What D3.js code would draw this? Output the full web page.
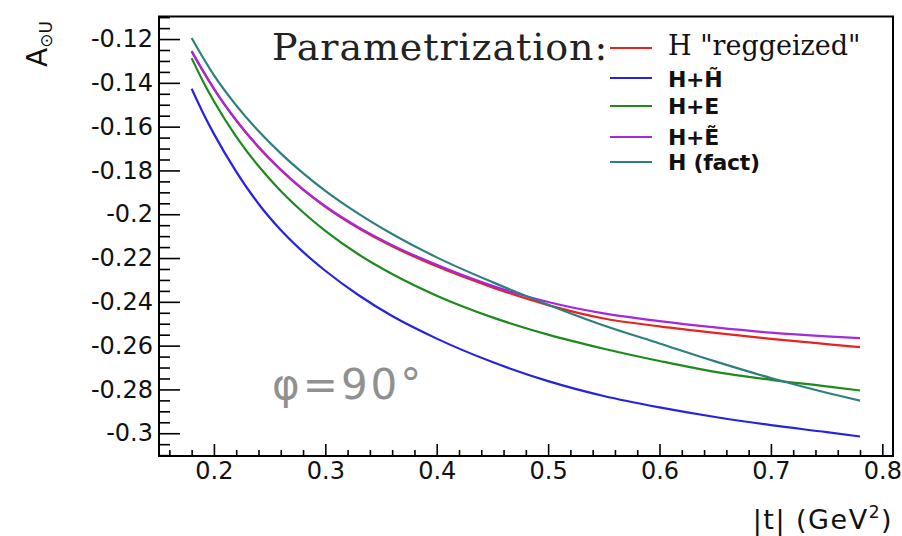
<!DOCTYPE html>
<html><head><meta charset="utf-8">
<script src="https://cdn.jsdelivr.net/npm/d3@7"></script>
<style>
html,body{margin:0;padding:0;background:#fff;}
svg{display:block;}
</style></head>
<body>
<svg id="chart" width="902" height="536"></svg>
<script>
const tValues = [0.18,0.19,0.20,0.22,0.24,0.26,0.28,0.30,0.33,0.36,0.40,0.45,0.50,0.55,0.60,0.65,0.70,0.75,0.78];
const hReggeized = [-0.1257,-0.1345,-0.1428,-0.1572,-0.1694,-0.1798,-0.1888,-0.1966,-0.2064,-0.2146,-0.2238,-0.2334,-0.2415,-0.2476,-0.2512,-0.2542,-0.2569,-0.2593,-0.2607];
const hPlusHt    = [-0.1427,-0.1535,-0.1633,-0.1805,-0.1952,-0.2072,-0.2172,-0.2258,-0.2370,-0.2465,-0.2568,-0.2675,-0.2762,-0.2830,-0.2882,-0.2926,-0.2963,-0.2995,-0.3015];
const hPlusE     = [-0.1287,-0.1391,-0.1484,-0.1645,-0.1780,-0.1894,-0.1991,-0.2076,-0.2184,-0.2273,-0.2372,-0.2471,-0.2550,-0.2614,-0.2670,-0.2720,-0.2756,-0.2786,-0.2805];
const hPlusEt    = [-0.1255,-0.1343,-0.1426,-0.1570,-0.1692,-0.1796,-0.1886,-0.1963,-0.2060,-0.2141,-0.2231,-0.2327,-0.2401,-0.2453,-0.2488,-0.2517,-0.2541,-0.2558,-0.2566];
const hFact      = [-0.1195,-0.1283,-0.1365,-0.1503,-0.1620,-0.1722,-0.1812,-0.1893,-0.1998,-0.2090,-0.2197,-0.2310,-0.2413,-0.2508,-0.2590,-0.2672,-0.2748,-0.2815,-0.2851];

const seriesNames  = ['H "reggeized"', 'H+H\u0303', 'H+E', 'H+\u1EBC', 'H (fact)'];
const seriesColors = ['#e8221e', '#2424e0', '#1e8a1e', '#a428dc', '#2e7f80'];
const seriesData   = [hReggeized, hPlusHt, hPlusE, hPlusEt, hFact];
const drawOrder    = [2, 1, 0, 3, 4];

const xMajorTicks = [0.2,0.3,0.4,0.5,0.6,0.7,0.8];
const yMajorTicks = [-0.12,-0.14,-0.16,-0.18,-0.2,-0.22,-0.24,-0.26,-0.28,-0.3];

const svg = d3.select('#chart');
const L = 159, R = 893, T = 16.5, B = 456;
const x = d3.scaleLinear().domain([0.1507, 0.8096]).range([L, R]);
const y = d3.scaleLinear().domain([-0.3104, -0.1097]).range([B, T]);

svg.append('rect').attr('width', 902).attr('height', 536).attr('fill', '#fff');

// minor ticks
const xMinor = d3.range(0.16, 0.8101, 0.02).map(v => +v.toFixed(3)).filter(v => xMajorTicks.indexOf(v) < 0);
const yMinor = d3.range(-0.31, -0.1099, 0.005).map(v => +v.toFixed(4)).filter(v => yMajorTicks.every(t => Math.abs(t - v) > 1e-6));

const fmt = d => String(+d.toFixed(2));

const gx = svg.append('g').attr('transform', `translate(0,${B})`);
gx.call(d3.axisBottom(x).tickValues(xMajorTicks).tickSizeInner(-12).tickSizeOuter(0).tickPadding(6).tickFormat(fmt));
const gxm = svg.append('g').attr('transform', `translate(0,${B})`);
gxm.call(d3.axisBottom(x).tickValues(xMinor).tickSizeInner(-6).tickSizeOuter(0).tickFormat(''));

const gy = svg.append('g').attr('transform', `translate(${L},0)`);
gy.call(d3.axisLeft(y).tickValues(yMajorTicks).tickSizeInner(-21).tickSizeOuter(0).tickPadding(6).tickFormat(fmt));
const gym = svg.append('g').attr('transform', `translate(${L},0)`);
gym.call(d3.axisLeft(y).tickValues(yMinor).tickSizeInner(-11).tickSizeOuter(0).tickFormat(''));

svg.selectAll('.domain').remove();
svg.selectAll('.tick line').attr('stroke', '#000').attr('stroke-width', 1.6);
svg.selectAll('.tick text').attr('font-family', 'DejaVu Sans').attr('font-size', 24).attr('fill', '#111');

// curves
const line = d3.line().x((d, i) => x(tValues[i])).y(d => y(d)).curve(d3.curveMonotoneX);
drawOrder.forEach(k => {
  svg.append('path').datum(seriesData[k]).attr('d', line)
    .attr('fill', 'none').attr('stroke', seriesColors[k]).attr('stroke-width', 2.2);
});

// frame
svg.append('rect').attr('x', L).attr('y', T).attr('width', R - L).attr('height', B - T)
  .attr('fill', 'none').attr('stroke', '#000').attr('stroke-width', 2);

// legend
svg.append('text').attr('x', 272).attr('y', 60).attr('font-family', 'DejaVu Serif')
  .attr('font-size', 38).attr('letter-spacing', 0.9).attr('fill', '#222').text('Parametrization:');
const legY = [48, 78, 106, 137, 162];
const legTextY = [55, 87, 114, 145, 170];
seriesNames.forEach((n, k) => {
  svg.append('line').attr('x1', 610).attr('x2', 652).attr('y1', legY[k]).attr('y2', legY[k])
    .attr('stroke', seriesColors[k]).attr('stroke-width', 2.2);
  const t = svg.append('text').attr('x', 668).attr('y', legTextY[k]).attr('fill', '#111').text(n);
  if (k === 0) t.attr('font-family', 'DejaVu Serif').attr('font-size', 27);
  else t.attr('font-family', 'DejaVu Sans').attr('font-weight', 'bold').attr('font-size', 22).attr('letter-spacing', -0.3);
});

// phi annotation
svg.append('text').attr('x', 272).attr('y', 399).attr('font-family', 'DejaVu Sans')
  .attr('font-size', 42).attr('letter-spacing', 3).attr('fill', '#909090').text('\u03C6=90\u00B0');

// axis titles
const yt = svg.append('text').attr('transform', 'translate(47,67) rotate(-90)')
  .attr('font-family', 'DejaVu Sans').attr('fill', '#111');
yt.append('tspan').attr('font-size', 28).text('A');
yt.append('tspan').attr('font-size', 17).attr('dy', 5).text('\u2299U');

const xt = svg.append('text').attr('x', 893).attr('y', 529).attr('text-anchor', 'end')
  .attr('font-family', 'DejaVu Sans').attr('font-size', 27).attr('letter-spacing', 1.5).attr('fill', '#111');
xt.append('tspan').text('|t| (GeV');
xt.append('tspan').attr('font-size', 17).attr('dy', -11).text('2');
xt.append('tspan').attr('dy', 11).text(')');
</script>
</body></html>
